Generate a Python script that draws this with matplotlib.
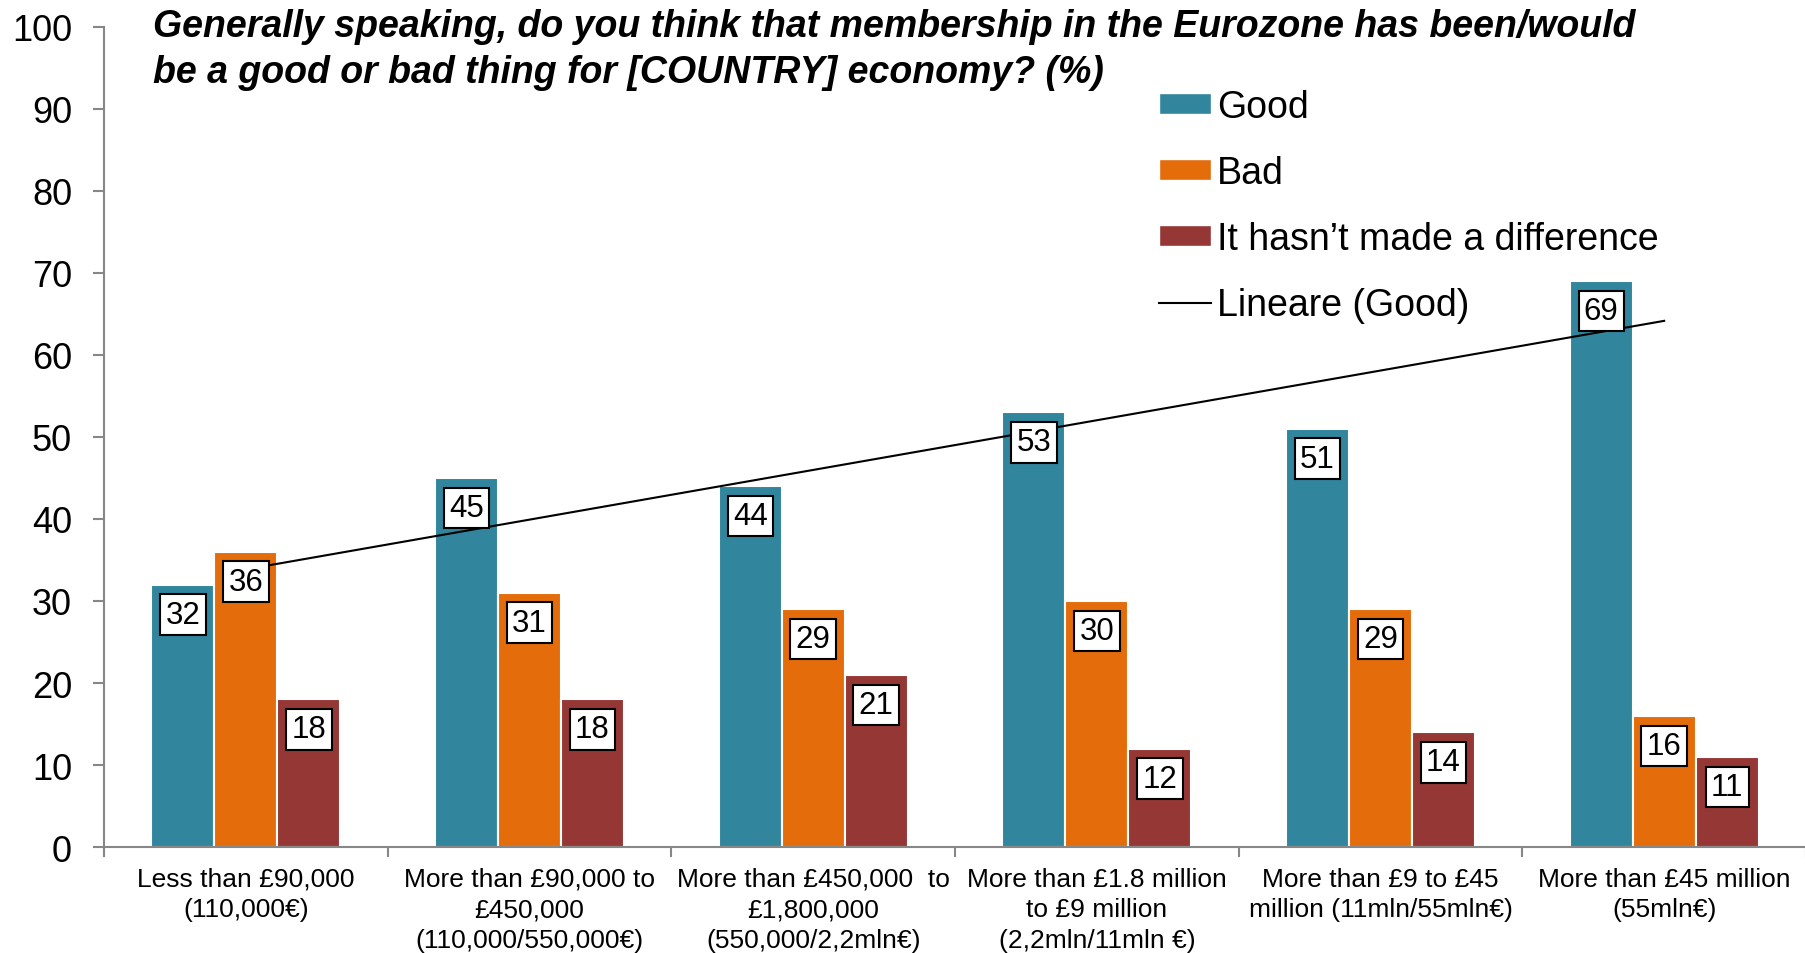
import matplotlib.pyplot as plt
import numpy as np
from matplotlib.patches import Patch
from matplotlib.lines import Line2D

plt.rcParams['font.family'] = ['Liberation Sans', 'DejaVu Sans']

categories = [
    "Less than £90,000\n(110,000€)",
    "More than £90,000 to\n£450,000\n(110,000/550,000€)",
    "More than £450,000  to\n£1,800,000\n(550,000/2,2mln€)",
    "More than £1.8 million\nto £9 million\n(2,2mln/11mln €)",
    "More than £9 to £45\nmillion (11mln/55mln€)",
    "More than £45 million\n(55mln€)",
]
good = [32, 45, 44, 53, 51, 69]
bad = [36, 31, 29, 30, 29, 16]
no_diff = [18, 18, 21, 12, 14, 11]

series_names = ["Good", "Bad", "It hasn\u2019t made a difference"]
colors = ["#31859C", "#E46C0A", "#953735"]
title = ("Generally speaking, do you think that membership in the Eurozone has been/would\n"
         "be a good or bad thing for [COUNTRY] economy? (%)")

fig = plt.figure(figsize=(18.06, 9.54), dpi=100)
ax = fig.add_axes([0.0576, 0.111, 0.9424, 0.860])

x = np.arange(len(categories))
width = 0.222
offsets = [-width, 0, width]

for vals, off, col in zip([good, bad, no_diff], offsets, colors):
    bars = ax.bar(x + off, vals, width, color=col, edgecolor='white', linewidth=1.5, zorder=2)
    for b, v in zip(bars, vals):
        ax.annotate(str(v), (b.get_x() + b.get_width() / 2, v),
                    xytext=(0, -21.6), textcoords='offset points',
                    ha='center', va='center', fontsize=22.5, zorder=5,
                    bbox=dict(boxstyle='square,pad=0.17', fc='white', ec='black', lw=1.5))

# linear trend of the "Good" series
coef = np.polyfit(x, good, 1)
ax.plot(x, np.polyval(coef, x), color='black', lw=1.5, zorder=3)

ax.set_xlim(-0.5, len(categories) - 0.5)
ax.set_ylim(0, 100)
ax.set_yticks(range(0, 101, 10))
ax.set_xticks(x)
ax.set_xticklabels(categories, fontsize=19, linespacing=1.35)
ax.set_xticks(np.arange(-0.5, len(categories)), minor=True)
ax.tick_params(axis='x', which='major', length=0, pad=14)
ax.tick_params(axis='x', which='minor', length=7, width=1.5, color='#878787', direction='out')
ax.tick_params(axis='y', labelsize=26, length=8, width=1.5, color='#878787', pad=15)

for s in ['top', 'right']:
    ax.spines[s].set_visible(False)
for s in ['left', 'bottom']:
    ax.spines[s].set_color('#878787')
    ax.spines[s].set_linewidth(1.5)

fig.text(153 / 1806, 1 - 9 / 954, title, ha='left', va='top', fontsize=27,
         fontweight='bold', fontstyle='italic', linespacing=1.35)

handles = [Patch(facecolor=c, edgecolor='white') for c in colors]
handles.append(Line2D([0], [0], color='black', lw=1.5))
fig.legend(handles, series_names + ["Lineare (Good)"],
           loc='upper left', bbox_to_anchor=(1159 / 1806, 1 - 90 / 954),
           frameon=False, fontsize=27, borderpad=0, borderaxespad=0,
           handlelength=1.38, handleheight=0.46, handletextpad=0.17, labelspacing=0.8)

fig.savefig('out.png', dpi=100)
